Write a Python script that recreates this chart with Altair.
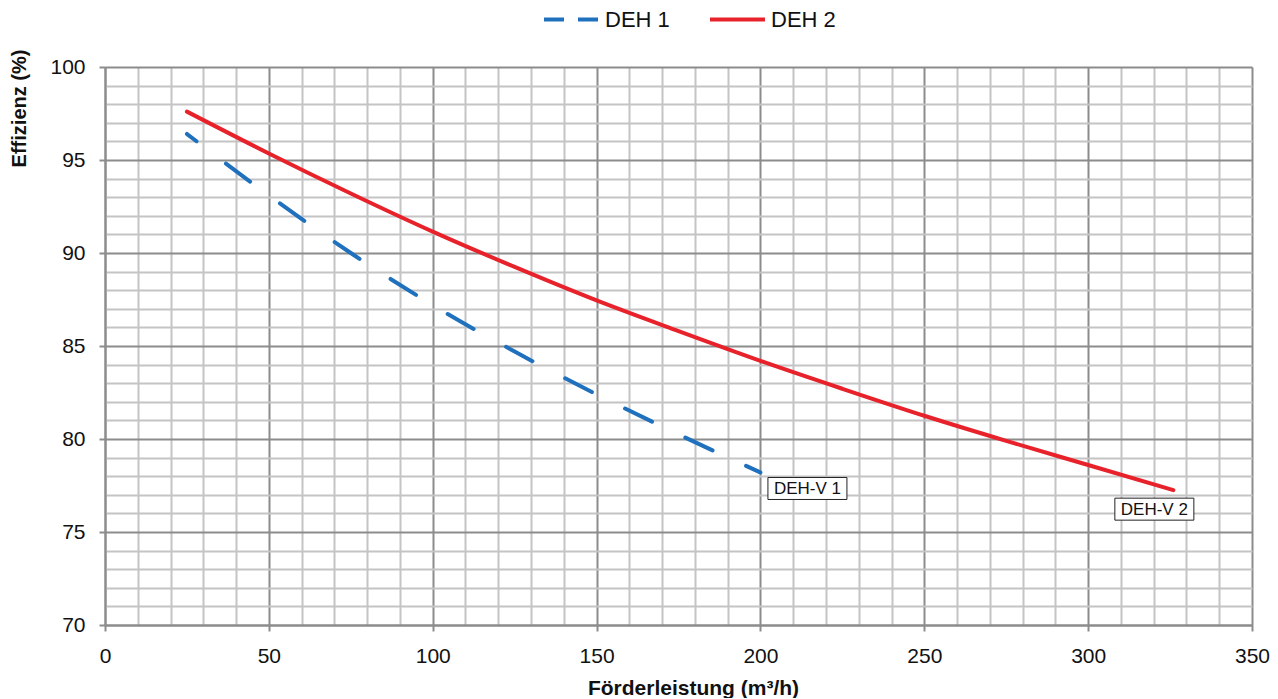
import altair as alt
import pandas as pd

# ---- data ----
x_deh1 = [25, 50, 75, 100, 125, 150, 175, 200]
y_deh1 = [96.4, 93.1, 90.0, 87.2, 84.7, 82.4, 80.25, 78.2]
x_deh2 = [25, 50, 75, 100, 125, 150, 175, 200, 225, 250, 275, 300, 326]
y_deh2 = [97.6, 95.35, 93.2, 91.15, 89.25, 87.45, 85.8, 84.2, 82.7, 81.25, 79.9, 78.6, 77.25]
series_names = ["DEH 1", "DEH 2"]
end_labels = ["DEH-V 1", "DEH-V 2"]
x_ticks = list(range(0, 351, 10))
y_ticks = list(range(70, 101, 1))

BLUE = "#1f70bd"
RED = "#e8222b"
FONT = "Liberation Sans"

df1 = pd.DataFrame({"q": x_deh1, "eff": y_deh1, "series": series_names[0]})
df2 = pd.DataFrame({"q": x_deh2, "eff": y_deh2, "series": series_names[1]})

x_scale = alt.Scale(domain=[0, 350], nice=False, zero=False)
y_scale = alt.Scale(domain=[70, 100], nice=False, zero=False)

x_axis = alt.Axis(
    values=x_ticks, tickCount=200, format="d", grid=True,
    gridColor=alt.condition("datum.value % 50 === 0", alt.value("#8c8c8c"), alt.value("#c4c4c4")),
    gridWidth=2,
    tickColor=alt.condition("datum.value % 50 === 0", alt.value("#8c8c8c"), alt.value("transparent")),
    tickSize=6, tickWidth=2,
    domainColor="#8c8c8c", domainWidth=2,
    labelExpr="datum.value % 50 === 0 ? datum.label : ''",
    labelFont=FONT, labelFontSize=21, labelColor="#111", labelPadding=14,
    labelFlush=False, labelOverlap=False,
    title="Förderleistung (m³/h)", titleFont=FONT, titleFontSize=21, titleFontWeight="bold",
    titleColor="#111", titleX=588, titleY=69, titleAlign="center", titleBaseline="alphabetic",
)
y_axis = alt.Axis(
    values=y_ticks, tickCount=200, format="d", grid=True,
    gridColor=alt.condition("datum.value % 5 === 0", alt.value("#8c8c8c"), alt.value("#c4c4c4")),
    gridWidth=2,
    tickColor=alt.condition("datum.value % 5 === 0", alt.value("#8c8c8c"), alt.value("transparent")),
    tickSize=6, tickWidth=2,
    domainColor="#8c8c8c", domainWidth=2,
    labelExpr="datum.value % 5 === 0 ? datum.label : ''",
    labelFont=FONT, labelFontSize=21, labelColor="#111", labelPadding=14,
    labelFlush=False, labelOverlap=False,
    title="Effizienz (%)", titleFont=FONT, titleFontSize=20, titleFontWeight="bold",
    titleColor="#111", titleX=-86, titleY=41, titleAngle=270,
    titleAlign="center", titleBaseline="middle",
)


def legend_for(lx, dash):
    return alt.Legend(
        title=None, orient="none", direction="horizontal",
        legendX=lx, legendY=-77,
        symbolType="stroke", symbolSize=3025, symbolStrokeWidth=4,
        symbolDash=dash,
        labelFont=FONT, labelFontSize=22, labelColor="#111",
        labelOffset=4,
    )


line1 = alt.Chart(df1).mark_line(
    strokeWidth=4, strokeCap="round", interpolate="monotone",
    strokeDash=[30, 37], strokeDashOffset=18,
).encode(
    x=alt.X("q:Q", scale=x_scale, axis=x_axis),
    y=alt.Y("eff:Q", scale=y_scale, axis=y_axis),
    color=alt.Color("series:N", scale=alt.Scale(domain=[series_names[0]], range=[BLUE]),
                    legend=legend_for(437, [20, 14])),
)
line2 = alt.Chart(df2).mark_line(
    strokeWidth=4, strokeCap="round", interpolate="monotone"
).encode(
    x=alt.X("q:Q", scale=x_scale, axis=x_axis),
    y=alt.Y("eff:Q", scale=y_scale, axis=y_axis),
    color=alt.Color("series:N", scale=alt.Scale(domain=[series_names[1]], range=[RED]),
                    legend=legend_for(603, [200, 0])),
)

lab1 = pd.DataFrame({"q": [x_deh1[-1]], "eff": [y_deh1[-1]], "t": [end_labels[0]]})
lab2 = pd.DataFrame({"q": [x_deh2[-1]], "eff": [y_deh2[-1]], "t": [end_labels[1]]})


def label_layers(d, dx, dy):
    box = alt.Chart(d).mark_rect(
        width=79, height=22, fill="white", stroke="#222", strokeWidth=1,
        xOffset=dx, yOffset=dy,
    ).encode(x=alt.X("q:Q", scale=x_scale), y=alt.Y("eff:Q", scale=y_scale))
    txt = alt.Chart(d).mark_text(
        font=FONT, fontSize=17, color="#111", align="center", baseline="middle",
        xOffset=dx, yOffset=dy + 1,
    ).encode(x=alt.X("q:Q", scale=x_scale), y=alt.Y("eff:Q", scale=y_scale), text="t:N")
    return box + txt


chart = alt.layer(
    line1, line2,
    label_layers(lab1, 47, 16),
    label_layers(lab2, -19, 19),
).resolve_scale(color="independent").properties(
    width=1147, height=558,
    autosize=alt.AutoSizeParams(type="none"),
    padding={"left": 97, "top": 59, "right": 18, "bottom": 73},
).configure_view(stroke=None).configure(background="white")

chart.save("out.html", embed_options={"renderer": "svg", "actions": False})
